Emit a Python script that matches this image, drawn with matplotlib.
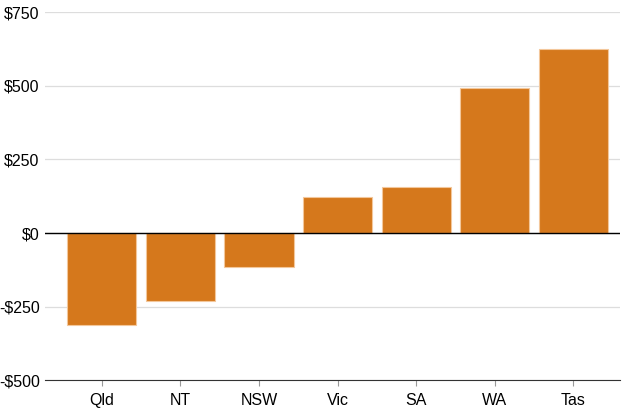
import matplotlib
matplotlib.use('Agg')
import matplotlib.pyplot as plt

states = ['Qld', 'NT', 'NSW', 'Vic', 'SA', 'WA', 'Tas']
values = [-313, -231, -114, 124, 156, 493, 626]
y_ticks = [-500, -250, 0, 250, 500, 750]
y_labels = ['-$500', '-$250', '$0', '$250', '$500', '$750']

plt.rcParams['font.family'] = ['Liberation Sans', 'DejaVu Sans']

fig = plt.figure(figsize=(6.28, 4.11), dpi=100)
ax = fig.add_axes([0.072, 0.075, 0.916, 0.895])

ax.bar(range(len(states)), values, width=0.88, color='#d5781c',
       edgecolor='#f3c79b', linewidth=0.8, zorder=3)
ax.axhline(0, color='black', linewidth=1, zorder=4)

ax.set_ylim(-500, 750)
ax.set_xlim(-0.72, 6.6)
ax.set_yticks(y_ticks)
ax.set_yticklabels(y_labels)
ax.set_xticks(range(len(states)))
ax.set_xticklabels(states)

ax.grid(axis='y', color='#dddddd', linewidth=0.9, zorder=0)
for s in ['top', 'right', 'left']:
    ax.spines[s].set_visible(False)
ax.spines['bottom'].set_color('#333333')
ax.tick_params(axis='y', length=0, labelsize=11.5, pad=4)
ax.tick_params(axis='x', length=4, color='#999999', labelsize=11.5, pad=5)

plt.savefig('out.png', dpi=100)
